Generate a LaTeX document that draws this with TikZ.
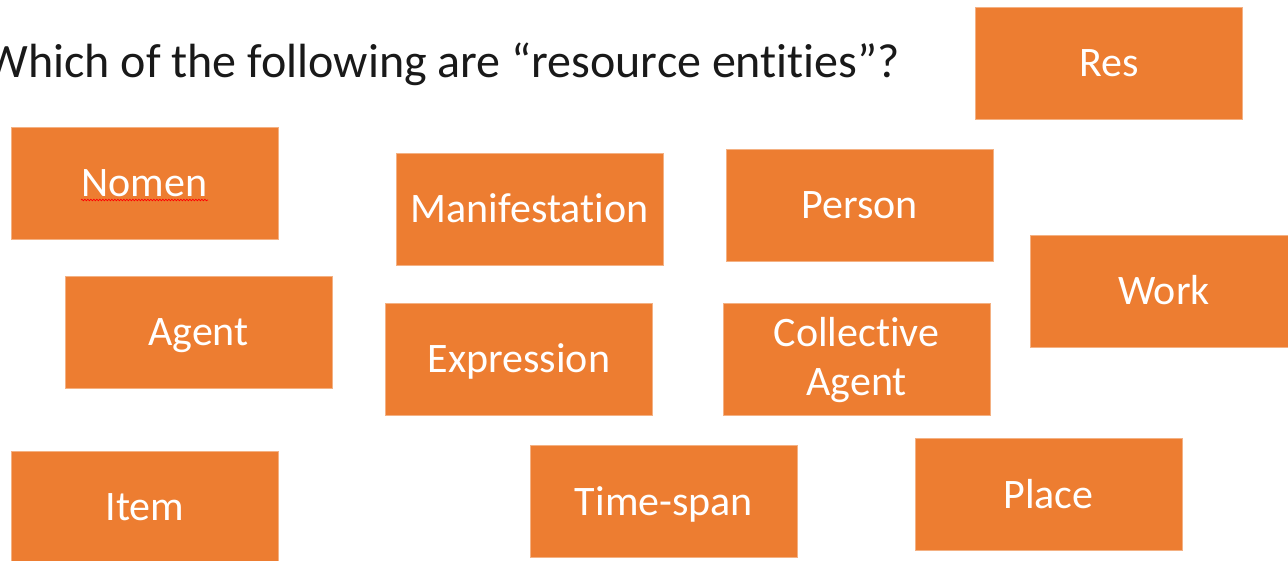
\documentclass[tikz,border=0pt]{standalone}
\usepackage{fontspec}
\setmainfont{Carlito}[Ligatures=NoCommon]
\usetikzlibrary{decorations.pathmorphing}
\definecolor{boxfill}{HTML}{ED7D31}
\definecolor{boxedge}{HTML}{F4B183}
\tikzset{
  entity/.style={draw=boxedge, line width=0.8pt, fill=boxfill, text=white,
    minimum width=267pt, minimum height=112pt, inner sep=0pt, outer sep=0pt,
    font=\fontsize{42pt}{49pt}\selectfont, text height=27pt, text depth=0pt, align=center},
  twoline/.style={text height=76pt, text depth=4pt},
  spell/.style={red, line width=0.7pt, decorate, decoration={snake, amplitude=0.8pt, segment length=3pt}},
  titletext/.style={font=\fontsize{48pt}{52pt}\selectfont, text=black!90, inner sep=0pt, outer sep=0pt}
}
\begin{document}
\begin{tikzpicture}[x=1pt, y=-1pt]
\useasboundingbox (0,0) rectangle (1288,561);
\clip (0,0) rectangle (1288,561);
\fill[white] (0,0) rectangle (1288,561);
\node[titletext, anchor=base east] (title) at (900,78) {Which of the following are “resource entities”?};
\node[entity] (res) at (1109,63) {Res};
\node[entity] (nomen) at (144.5,183) {Nomen};
\node[entity] (manif) at (529.5,209) {Manifestation};
\node[entity] (person) at (859.5,205) {Person};
\node[entity, minimum width=268pt] (work) at (1164,291) {Work};
\node[entity] (agent) at (198.5,332) {Agent};
\node[entity] (expr) at (519,359) {Expression};
\node[entity, twoline] (coll) at (856.5,359) {Collective\\Agent};
\node[entity] (item) at (145,507) {Item};
\node[entity] (time) at (664,501.5) {Time-span};
\node[entity] (place) at (1048.5,494.5) {Place};
\coordinate (ul1) at ([xshift=-63.5pt, yshift=-17pt]nomen.center);
\coordinate (ul2) at ([xshift=63.5pt, yshift=-17pt]nomen.center);
\draw[spell] (ul1) -- (ul2);
\end{tikzpicture}
\end{document}
